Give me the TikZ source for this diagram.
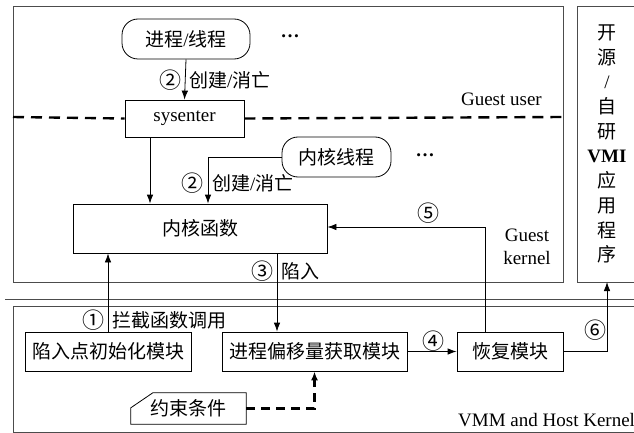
\documentclass[tikz,border=0pt]{standalone}
\usepackage{fontspec}
\setmainfont{Liberation Serif}
\newfontfamily\cjk{Noto Sans CJK SC}
\usetikzlibrary{arrows.meta}
\newcommand\fsz{\fontsize{19}{22}\selectfont}
\newcommand\myslash{{\rmfamily /}}
\begin{document}
\begin{tikzpicture}[x=1pt,y=-1pt,
  frame/.style={draw=black!70,line width=1pt},
  box/.style={draw,line width=0.8pt,inner sep=0pt,font=\fsz\cjk},
  rbox/.style={box,rounded corners=16pt},
  lbl/.style={inner sep=0pt,font=\fsz\cjk},
  num/.style={inner sep=0pt,font=\fontsize{22}{24}\selectfont\cjk},
  en/.style={inner sep=0pt,font=\fsz},
  arr/.style={line width=0.8pt,-{Latex[length=9pt,width=6.5pt]}},
  darr/.style={line width=2.2pt,dash pattern=on 9pt off 6pt,-{Latex[length=9pt,width=7pt]}},
  sep/.style={line width=2.4pt,dash pattern=on 11pt off 7pt}
]
\useasboundingbox (0,0) rectangle (634,433);
\clip (0,0) rectangle (634,433);
% frames
\draw[frame] (13,7) rectangle (563,282);
\draw[frame] (577,7) rectangle (650,282);
\draw[frame] (13,306) rectangle (650,432);
\draw[frame] (5,299) -- (640,299);
% nodes
\node[rbox,minimum width=128pt,minimum height=40pt] (proc) at (186,39) {进程\myslash 线程};
\node[en,font=\fsz\bfseries] (dots1) at (290,36) {…};
\node[box,font=\fsz,minimum width=119pt,minimum height=37pt] (sys) at (184.5,118.5) {sysenter};
\node[rbox,minimum width=109pt,minimum height=40pt] (kth) at (336.5,157) {内核线程};
\node[en,font=\fsz\bfseries] (dots2) at (425,155) {…};
\node[box,minimum width=254pt,minimum height=49pt] (kf) at (200,228.5) {内核函数};
\node[box,minimum width=166pt,minimum height=39pt] (ti) at (108,351.5) {陷入点初始化模块};
\node[box,minimum width=185pt,minimum height=39pt] (off) at (314.5,351.5) {进程偏移量获取模块};
\node[box,minimum width=106pt,minimum height=39pt] (rec) at (510,351.5) {恢复模块};
\node[lbl,minimum width=115pt,minimum height=31pt] (cons) at (188.5,408.5) {约束条件};
\draw[line width=0.8pt] ([xshift=22pt]cons.north west) -- (cons.north east) -- (cons.south east) -- (cons.south west) -- ([yshift=-15pt]cons.north west) -- cycle;
\node[lbl,align=center,font=\fontsize{19}{24.7}\selectfont\cjk] (vmi) at (607,144) {开\\源\\{\rmfamily /}\\自\\研\\{\rmfamily\bfseries VMI}\\应\\用\\程\\序};
% separator
\draw[sep] (13,117) -- (sys.west);
\draw[sep] (sys.east) -- (563,117);
% texts
\node[en,anchor=east] (gu) at (542,99) {Guest user};
\node[en,align=center,font=\fontsize{19}{23}\selectfont] (gk) at (527,247) {Guest\\kernel};
\node[en,anchor=west] (vmm) at (458,420) {VMM and Host Kernel};
% connectors
\draw[arr] (proc.south) -- (sys.north);
\node[num,anchor=east] (l2a) at (182,80) {②};
\node[lbl,anchor=west] (l2b) at (189,80) {创建\myslash 消亡};
\draw[arr] (sys.south -| 150,0) -- (kf.north -| 150,0);
\draw[arr] (kth.west) -| (kf.north -| 208,0);
\node[num,anchor=east] (l2c) at (204,183) {②};
\node[lbl,anchor=west] (l2d) at (212,183) {创建\myslash 消亡};
\draw[arr] (rec.north -| 485,0) |- (kf.east |- 0,227);
\node[num] (l5) at (428,213) {⑤};
\draw[arr] (kf.south -| 277,0) -- (off.north -| 277,0);
\node[num,anchor=east] (l3a) at (274,271) {③};
\node[lbl,anchor=west] (l3b) at (281,271) {陷入};
\draw[arr] (ti.north) -- (kf.south -| ti.north);
\node[num,anchor=east] (l1a) at (105,320) {①};
\node[lbl,anchor=west] (l1b) at (112,320) {拦截函数调用};
\draw[arr] (off.east) -- (rec.west);
\node[num] (l4) at (433,341) {④};
\draw[arr] (rec.east) -| (vmi.south |- 0,282);
\node[num] (l6) at (595,330) {⑥};
\draw[darr] (cons.east) -| (off.south);
\end{tikzpicture}
\end{document}
